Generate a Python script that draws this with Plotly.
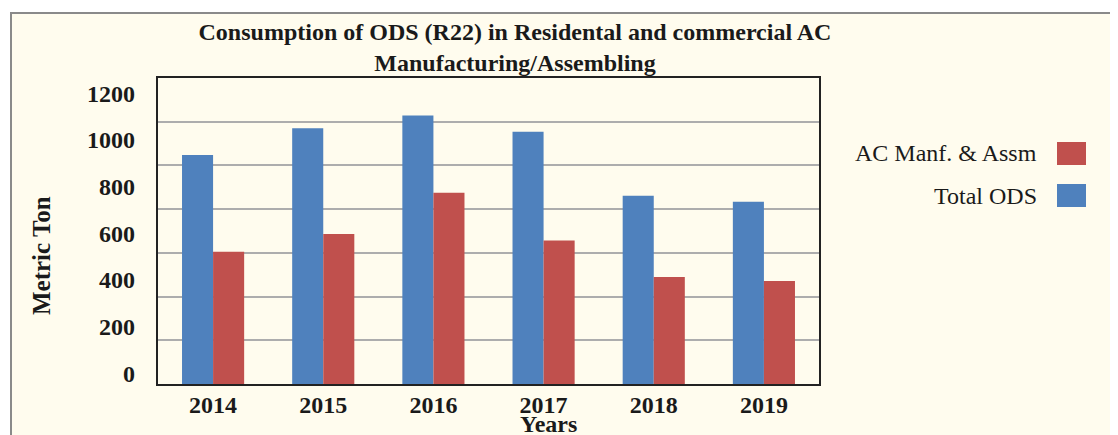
import plotly.graph_objects as go

years = ["2014", "2015", "2016", "2017", "2018", "2019"]
total_ods = [1048, 1170, 1229, 1154, 861, 834]
ac_manf = [605, 686, 875, 656, 490, 471]
ytick_vals = [0, 200, 400, 600, 800, 1000, 1200]

BLUE = "#4F81BD"
RED = "#C0504D"
CREAM = "#FFFCEE"
SERIF = "Liberation Serif, Times New Roman, serif"
INK = "#1a1a1a"

# page body has an 8px margin: work in reference pixels and shift
OFF = 8
W, H = 1118 - OFF, 435 - OFF
L, R, T, B = 158 - OFF, 819 - OFF, 78 - OFF, 384 - OFF


def px(x):
    return (x - OFF - L) / (R - L)


def py(y):
    return (B - (y - OFF)) / (B - T)


fig = go.Figure()
fig.add_trace(go.Bar(x=years, y=total_ods, name="Total ODS", marker_color=BLUE,
                     marker_line_width=0))
fig.add_trace(go.Bar(x=years, y=ac_manf, name="AC Manf. & Assm", marker_color=RED,
                     marker_line_width=0))
# empty helper trace so the label axis is drawn
fig.add_trace(go.Scatter(x=[], y=[], yaxis="y2", showlegend=False, hoverinfo="skip"))

fig.update_layout(
    width=W, height=H,
    margin=dict(l=L, r=W - R, t=T, b=H - B, pad=0),
    paper_bgcolor="white",
    plot_bgcolor="white",
    showlegend=False,
    barmode="group",
    bargap=0.436,
    bargroupgap=0,
    font=dict(family=SERIF, color=INK),
    title=dict(
        text="<b>Consumption of ODS (R22) in Residental and commercial AC<br>Manufacturing/Assembling</b>",
        x=(515 - OFF) / W, xref="container", xanchor="center",
        y=1 - (40 - OFF) / H, yref="container", yanchor="middle",
        font=dict(size=24, family=SERIF, color=INK),
    ),
    xaxis=dict(
        showline=True, linecolor="#222222", linewidth=2, mirror=True,
        ticks="", showgrid=False,
        tickfont=dict(size=24, family=SERIF, color=INK, weight="bold"),
        ticklabelstandoff=-2,
    ),
    yaxis=dict(
        range=[0, 1400], dtick=200, showticklabels=False,
        showgrid=True, gridcolor="#ADADAD", gridwidth=1.5,
        showline=True, linecolor="#222222", linewidth=2, mirror=True,
        zeroline=False, ticks="",
    ),
    yaxis2=dict(
        overlaying="y", side="left", anchor="x",
        range=[-46, 1266], tickmode="array", tickvals=ytick_vals,
        ticktext=[str(v) for v in ytick_vals],
        showgrid=False, zeroline=False, showline=False, ticks="",
        tickfont=dict(size=24, family=SERIF, color=INK, weight="bold"),
        ticklabelstandoff=22,
    ),
)

shapes = [
    dict(type="rect", xref="paper", yref="paper", layer="below",
         x0=px(11), x1=px(1140), y0=py(13), y1=py(450),
         fillcolor=CREAM, line=dict(color="#8a8a8a", width=2)),
    dict(type="rect", xref="paper", yref="paper",
         x0=px(1057), x1=px(1086), y0=py(142), y1=py(165),
         fillcolor=RED, line=dict(width=0)),
    dict(type="rect", xref="paper", yref="paper",
         x0=px(1057), x1=px(1086), y0=py(184), y1=py(207),
         fillcolor=BLUE, line=dict(width=0)),
]
fig.update_layout(shapes=shapes)

annotations = [
    dict(text="AC Manf. & Assm", x=px(1039), y=py(153), xref="paper", yref="paper",
         xanchor="right", yanchor="middle", showarrow=False,
         font=dict(size=24, family=SERIF, color=INK)),
    dict(text="Total ODS", x=px(1039), y=py(196), xref="paper", yref="paper",
         xanchor="right", yanchor="middle", showarrow=False,
         font=dict(size=24, family=SERIF, color=INK)),
    dict(text="<b>Years</b>", x=px(548), y=py(424), xref="paper", yref="paper",
         xanchor="center", yanchor="middle", showarrow=False,
         font=dict(size=24, family=SERIF, color=INK)),
    dict(text="<b>Metric Ton</b>", x=px(42), y=py(256), xref="paper", yref="paper",
         xanchor="center", yanchor="middle", showarrow=False, textangle=-90,
         font=dict(size=25, family=SERIF, color=INK)),
]
fig.update_layout(annotations=annotations)

fig.write_html("out.html")
